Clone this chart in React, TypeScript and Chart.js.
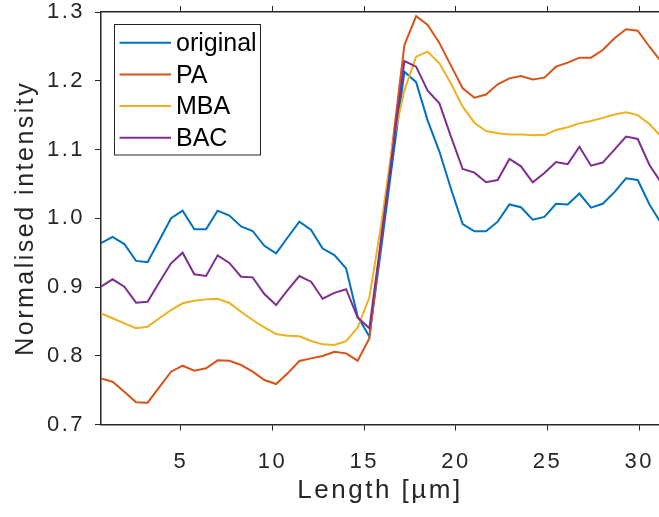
import React, { useEffect, useRef } from 'react';
import { Chart, registerables } from 'chart.js';

Chart.register(...registerables);

// Position along the profile (µm)
const lengthUm = [
  0.64, 1.27, 1.91, 2.55, 3.18, 3.82, 4.46, 5.09, 5.73, 6.37,
  7.0, 7.64, 8.28, 8.91, 9.55, 10.19, 10.82, 11.46, 12.1, 12.73,
  13.37, 14.01, 14.64, 15.28, 15.92, 16.55, 17.19, 17.83, 18.46, 19.1,
  19.73, 20.37, 21.01, 21.64, 22.28, 22.92, 23.55, 24.19, 24.83, 25.46,
  26.1, 26.74, 27.37, 28.01, 28.65, 29.28, 29.92, 30.56, 31.19,
];

const original = [
  0.964, 0.973, 0.9625, 0.938, 0.936, 0.968, 1.0, 1.011, 0.984, 0.984,
  1.011, 1.004, 0.988, 0.9815, 0.96, 0.949, 0.972, 0.995, 0.983, 0.956,
  0.9465, 0.927, 0.857, 0.828, 0.956, 1.085, 1.213, 1.198, 1.142, 1.097,
  1.043, 0.9916, 0.981, 0.981, 0.995, 1.02, 1.016, 0.998, 1.002, 1.021,
  1.02, 1.036, 1.0154, 1.021, 1.038, 1.058, 1.0556, 1.02, 0.993,
];

const pa = [
  0.767, 0.7623, 0.7477, 0.7322, 0.7317, 0.7545, 0.7768, 0.7855, 0.7783, 0.7817,
  0.7933, 0.7926, 0.7865, 0.7768, 0.7647, 0.7589, 0.7744, 0.7924, 0.7962, 0.7996,
  0.8058, 0.8035, 0.7928, 0.8254, 0.968, 1.11, 1.252, 1.294, 1.281, 1.255,
  1.222, 1.189, 1.1753, 1.18, 1.1948, 1.2035, 1.207, 1.202, 1.2045, 1.2205,
  1.2263, 1.2336, 1.2336, 1.2447, 1.2617, 1.2748, 1.2728, 1.2495, 1.228,
];

const mba = [
  0.8617, 0.8545, 0.8472, 0.84, 0.8423, 0.8545, 0.8665, 0.8763, 0.88, 0.882,
  0.883, 0.8768, 0.864, 0.852, 0.8413, 0.8316, 0.829, 0.8282, 0.8215, 0.8166,
  0.8156, 0.8213, 0.841, 0.885, 0.99, 1.109, 1.186, 1.235, 1.2423, 1.2253,
  1.196, 1.1623, 1.139, 1.1269, 1.1235, 1.122, 1.122, 1.1206, 1.121, 1.1284,
  1.1323, 1.138, 1.1415, 1.146, 1.151, 1.154, 1.15, 1.137, 1.119,
];

const bac = [
  0.9005, 0.9112, 0.9005, 0.8772, 0.8786, 0.9068, 0.9345, 0.9499, 0.9185, 0.916,
  0.946, 0.935, 0.915, 0.914, 0.8898, 0.8738, 0.8956, 0.916, 0.9077, 0.883,
  0.8915, 0.8968, 0.8555, 0.84, 0.9696, 1.099, 1.2287, 1.2205, 1.1855, 1.1672,
  1.1187, 1.0716, 1.0663, 1.0523, 1.0556, 1.0862, 1.0755, 1.0523, 1.0658, 1.0818,
  1.0787, 1.104, 1.0765, 1.081, 1.0998, 1.1187, 1.1153, 1.0775, 1.052,
];

const seriesNames = ['original', 'PA', 'MBA', 'BAC'];
const seriesValues = [original, pa, mba, bac];
const seriesColors = ['#0072BD', '#D95319', '#EDB120', '#7E2F8E'];

const xTicks = [5, 10, 15, 20, 25, 30];
const yTicks = [0.7, 0.8, 0.9, 1.0, 1.1, 1.2, 1.3];
const xMin = 0.638;
const xMax = 31.08;
const yMin = 0.7;
const yMax = 1.3;

const FONT = '"Liberation Sans", Arial, Helvetica, sans-serif';
const AXIS = '#262626';

const matlabPlugin = {
  id: 'matlabLook',
  beforeDraw(chart: any) {
    chart.ctx.letterSpacing = '2.5px';
  },
  afterDraw(chart: any) {
    const ctx = chart.ctx;
    ctx.save();
    ctx.letterSpacing = '0px';
    const left = 114.5;
    const top = 24.5;
    const w = 146;
    const h = 130.5;
    ctx.fillStyle = '#ffffff';
    ctx.fillRect(left, top, w, h);
    ctx.strokeStyle = AXIS;
    ctx.lineWidth = 1;
    ctx.strokeRect(left, top, w, h);
    chart.data.datasets.forEach((ds: any, i: number) => {
      const y = 42.7 + i * 31.7;
      ctx.strokeStyle = ds.borderColor;
      ctx.lineWidth = 2;
      ctx.beginPath();
      ctx.moveTo(119.5, y);
      ctx.lineTo(171, y);
      ctx.stroke();
      ctx.fillStyle = '#000000';
      ctx.font = `25px ${FONT}`;
      ctx.textBaseline = 'middle';
      ctx.textAlign = 'left';
      ctx.fillText(ds.label, 176, y + 1.5);
    });
    ctx.restore();
  },
};

export default function App() {
  const canvasRef = useRef<HTMLCanvasElement | null>(null);

  useEffect(() => {
    document.body.style.margin = '0';
    const canvas = canvasRef.current;
    if (!canvas) return;

    const datasets = seriesNames.map((name, s) => ({
      label: name,
      data: lengthUm.map((x, i) => ({ x, y: seriesValues[s][i] })),
      borderColor: seriesColors[s],
      backgroundColor: seriesColors[s],
      borderWidth: 2,
      pointRadius: 0,
      tension: 0,
      fill: false,
      order: seriesNames.length - s,
    }));

    const tickGrid = {
      drawOnChartArea: false,
      drawTicks: true,
      tickLength: 6,
      color: AXIS,
      lineWidth: 1,
    };
    const border = { display: true, color: AXIS, width: 1.5 };

    const chart = new Chart(canvas, {
      type: 'line',
      data: { datasets },
      plugins: [matlabPlugin],
      options: {
        animation: false,
        responsive: false,
        maintainAspectRatio: false,
        devicePixelRatio: 1,
        layout: { padding: 0 },
        plugins: {
          legend: { display: false },
          tooltip: { enabled: false },
          title: { display: false },
        },
        scales: {
          x: {
            type: 'linear',
            position: 'bottom',
            min: xMin,
            max: xMax,
            afterBuildTicks: (s: any) => {
              s.ticks = xTicks.map((v) => ({ value: v }));
            },
            afterFit: (s: any) => {
              s.height = 92.5;
              s.paddingLeft = 0;
              s.paddingRight = 0;
            },
            ticks: {
              color: AXIS,
              font: { family: FONT, size: 22 },
              padding: 18,
              maxRotation: 0,
              autoSkip: false,
            },
            grid: tickGrid,
            border,
            title: {
              display: true,
              text: 'Length [µm]',
              color: AXIS,
              font: { family: FONT, size: 26 },
              padding: { top: 0, bottom: 11 },
            },
          },
          xTop: {
            type: 'linear',
            position: 'top',
            display: true,
            min: xMin,
            max: xMax,
            afterBuildTicks: (s: any) => {
              s.ticks = xTicks.map((v) => ({ value: v }));
            },
            afterFit: (s: any) => {
              s.height = 12;
              s.paddingLeft = 0;
              s.paddingRight = 0;
            },
            ticks: { display: false },
            grid: tickGrid,
            border,
          },
          y: {
            type: 'linear',
            position: 'left',
            min: yMin,
            max: yMax,
            afterBuildTicks: (s: any) => {
              s.ticks = yTicks.map((v) => ({ value: v }));
            },
            afterFit: (s: any) => {
              s.width = 101;
              s.paddingTop = 0;
              s.paddingBottom = 0;
            },
            ticks: {
              color: AXIS,
              font: { family: FONT, size: 22 },
              padding: 10,
              callback: (v: any) => Number(v).toFixed(1),
            },
            grid: tickGrid,
            border,
            title: {
              display: true,
              text: 'Normalised intensity',
              color: AXIS,
              font: { family: FONT, size: 25 },
              padding: { top: 11, bottom: 0 },
            },
          },
        },
      } as any,
    });

    return () => {
      chart.destroy();
    };
  }, []);

  return (
    <canvas
      ref={canvasRef}
      width={659}
      height={517}
      style={{ display: 'block', width: 659, height: 517 }}
    />
  );
}
